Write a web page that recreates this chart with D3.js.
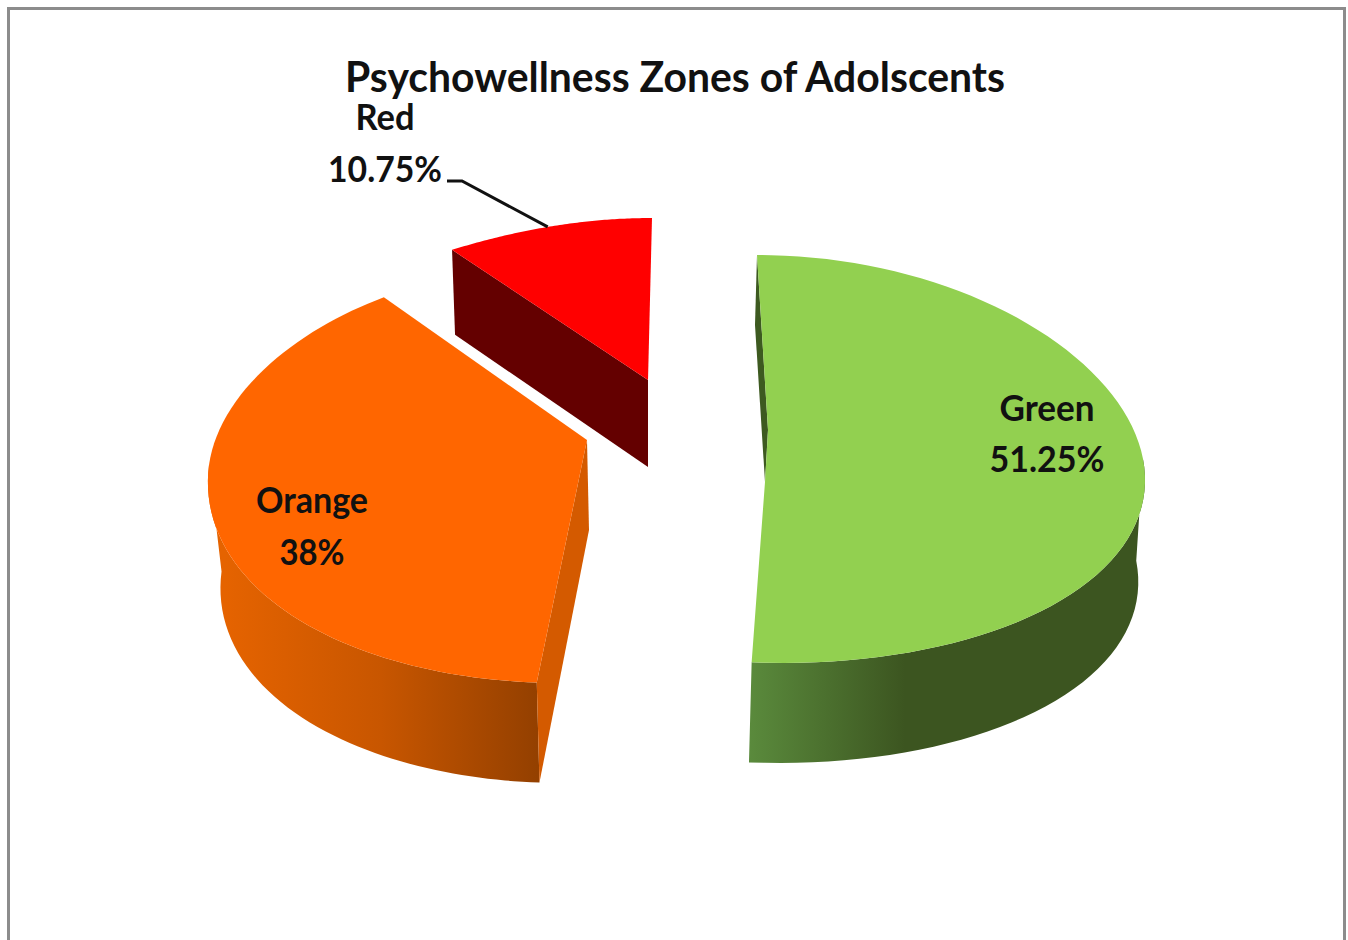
<!DOCTYPE html>
<html>
<head>
<meta charset="utf-8">
<title>Psychowellness Zones of Adolscents</title>
<script src="https://d3js.org/d3.v7.min.js"></script>
<style>
  html, body { margin: 0; padding: 0; background: #fff; overflow: hidden; }
  text { font-family: Lato, "Open Sans", sans-serif; fill: #111; }
</style>
</head>
<body>
<div id="chart-area"></div>
<script>
const categories = ["Green", "Orange", "Red"]
const values = [51.25, 38, 10.75]
const valueLabels = ["51.25%", "38%", "10.75%"]
const topColors = ["#92d050", "#ff6600", "#ff0000"]
const title = "Psychowellness Zones of Adolscents"

// each slice is pulled out and foreshortened on its own, like the old 3d office pie
const layout = {
  Green: {
    cx: 770, cy: 459, rx: 373, ry: 204, ryFar: 204, persp: 0.07, skew: 13, warp: 0,
    apex: [765, 482], fold: [768, 430], depth: 100, lowerScale: 0.99, lowerDx: -3,
    cut: "#3d5a20", wallStops: ["#5a8a3c", "#3c5520", "#3c5520"], wallX: [750, 1060],
    label: [1047, 421], labelW: 95, valueY: 472, valueW: 115
  },
  Orange: {
    cx: 560, cy: 465, rx: 351, ry: 218, ryFar: 199, persp: 0.08, skew: 0, warp: -0.11,
    apex: [587, 440], depth: 100, lowerScale: 0.97, lowerDx: 2,
    cut: "#d45a00", wallStops: ["#e56300", "#c85600", "#944000"], wallX: [225, 537],
    label: [312, 513], labelW: 112, valueY: 565, valueW: 65
  },
  Red: {
    cx: 652, cy: 363, rx: 408, ry: 145, ryFar: 145, persp: 0.277, skew: 0, warp: 0,
    apex: [648, 380], depth: 85, lowerScale: 1, lowerDx: 3,
    cut: "#640000",
    label: [385, 130], labelW: 59, valueY: 182, valueW: 114
  }
}

const svg = d3.select("#chart-area")
  .append("svg")
  .attr("width", 1348)
  .attr("height", 940)

svg.append("rect")
  .attr("x", 8.5)
  .attr("y", 8.5)
  .attr("width", 1336)
  .attr("height", 980)
  .attr("fill", "#fff")
  .attr("stroke", "#8c8c8c")
  .attr("stroke-width", 3)

const pie = d3.pie().sort(null).value(d => d.value)
const arcs = pie(categories.map((name, i) => ({ name, value: values[i], index: i })))

// angle on the pie -> point on the tilted rim
function rim(p, angle, lower) {
  const a = angle + p.warp * Math.sin(2 * angle)
  const scale = lower ? p.lowerScale : 1
  const c = Math.cos(a)
  const ry = c > 0 ? p.ryFar : p.ry
  const x = p.cx + p.rx * scale * Math.sin(a) * (1 - p.persp * c) - p.skew * c
  const y = p.cy - ry * scale * c
  return lower ? [x + p.lowerDx, y + p.depth + p.ry * (1 - scale)] : [x, y]
}

function rimPoints(p, d, lower) {
  const steps = d3.range(0, 1.0001, 1 / 80)
  const angle = d3.scaleLinear().domain([0, 1]).range([d.startAngle, d.endAngle])
  return steps.map(t => ({ a: angle(t), pt: rim(p, angle(t), lower) }))
}

const line = d3.line()
const defs = svg.append("defs")

// walls and cut faces first, top surfaces over them
arcs.forEach(d => {
  const p = layout[d.data.name]
  const upper = rimPoints(p, d, false).map(r => r.pt)
  const lower = rimPoints(p, d, true).map(r => r.pt)

  if (p.wallStops) {
    const grad = defs.append("linearGradient")
      .attr("id", `wall-${d.data.index}`)
      .attr("gradientUnits", "userSpaceOnUse")
      .attr("x1", p.wallX[0]).attr("x2", p.wallX[1])
      .attr("y1", 0).attr("y2", 0)
    p.wallStops.forEach((c, i) => {
      grad.append("stop").attr("offset", i / 2).attr("stop-color", c)
    })

    // only the near half of the wall can be seen, it closes on the rim's side extreme
    const nearUpper = rimPoints(p, d, false).filter(r => Math.cos(r.a) < 0.02).map(r => r.pt)
    const nearLower = rimPoints(p, d, true).filter(r => Math.cos(r.a) < 0.02).map(r => r.pt)
    svg.append("path")
      .attr("d", line(nearUpper.concat(nearLower.slice().reverse())) + "Z")
      .attr("fill", `url(#wall-${d.data.index})`)
  }

  // the flat faces where the slice was cut
  if (d.data.name === "Green") {
    svg.append("path")
      .attr("d", line([upper[0], [upper[0][0] - 2, upper[0][1] + 70], p.apex, p.fold]) + "Z")
      .attr("fill", p.cut)
  }
  if (d.data.name === "Orange") {
    svg.append("path")
      .attr("d", line([upper[0], lower[0], [p.apex[0] + 2, p.apex[1] + 90], p.apex]) + "Z")
      .attr("fill", p.cut)
  }
  if (d.data.name === "Red") {
    svg.append("path")
      .attr("d", line([upper[0], lower[0], [p.apex[0], p.apex[1] + p.depth + 2], p.apex]) + "Z")
      .attr("fill", p.cut)
  }
})

arcs.forEach(d => {
  const p = layout[d.data.name]
  const upper = rimPoints(p, d, false).map(r => r.pt)
  const inner = p.fold ? [p.apex, p.fold] : [p.apex]
  svg.append("path")
    .attr("d", line(upper.concat(inner)) + "Z")
    .attr("fill", topColors[d.data.index])
})

// leader from the red label to its slice
const redArc = arcs[2]
const redRim = rim(layout.Red, (redArc.startAngle + redArc.endAngle) / 2 - 0.015, false)
svg.append("path")
  .attr("d", line([[447, 181], [462, 181], redRim]))
  .attr("fill", "none")
  .attr("stroke", "#111")
  .attr("stroke-width", 3)

svg.append("text")
  .attr("x", 675)
  .attr("y", 92)
  .attr("text-anchor", "middle")
  .attr("font-size", 42)
  .attr("font-weight", 700)
  .attr("textLength", 660)
  .attr("lengthAdjust", "spacingAndGlyphs")
  .text(title)

arcs.forEach(d => {
  const p = layout[d.data.name]
  svg.append("text")
    .attr("x", p.label[0])
    .attr("y", p.label[1])
    .attr("text-anchor", "middle")
    .attr("font-size", 37)
    .attr("font-weight", 700)
    .attr("textLength", p.labelW)
    .attr("lengthAdjust", "spacingAndGlyphs")
    .text(d.data.name)
  svg.append("text")
    .attr("x", p.label[0])
    .attr("y", p.valueY)
    .attr("text-anchor", "middle")
    .attr("font-size", 37)
    .attr("font-weight", 700)
    .attr("textLength", p.valueW)
    .attr("lengthAdjust", "spacingAndGlyphs")
    .text(valueLabels[d.data.index])
})
</script>
</body>
</html>
